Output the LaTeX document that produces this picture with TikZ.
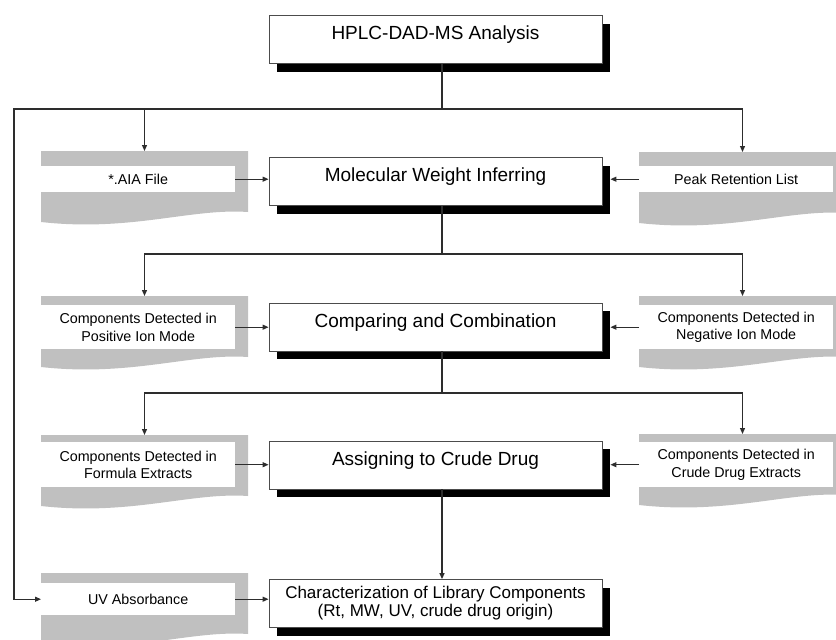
\documentclass[tikz,border=0pt]{standalone}
\usepackage{fontspec}
\setmainfont{Liberation Sans}
\usetikzlibrary{arrows.meta,shadows,calc}
\definecolor{docgray}{RGB}{192,192,192}
\definecolor{lin}{RGB}{45,45,45}
\newcommand\mkdoc[6]{%
  \fill[docgray] (#2,#3) -- (#2+207,#3) -- (#2+207,#3+61) .. controls (#2+150,#3+57) and (#2+90,#3+81) .. (#2,#3+71) -- cycle;
  \node[docbox, minimum height=#5pt] (#1) at (#2,#4) {#6};
  \coordinate (#1n) at (#2+103.5,#3);}
\begin{document}
\begin{tikzpicture}[x=1pt,y=-1pt,
  mainbase/.style={draw=black!70, line width=0.8pt, fill=white, minimum width=333pt, minimum height=48pt, inner sep=2pt,
    drop shadow={shadow xshift=8pt, shadow yshift=-8pt, fill=black, opacity=1}},
  mainbox/.style={mainbase, font=\fontsize{19}{22}\selectfont, text height=12pt, text depth=12pt},
  docbox/.style={fill=white, inner sep=0pt, minimum width=194pt, align=center, font=\fontsize{14.3}{17.5}\selectfont, anchor=north west},
  conn/.style={draw=lin, line width=1.2pt},
  arr/.style={conn, -{Triangle[length=6pt,width=5pt]}}]
\useasboundingbox (0,0) rectangle (836,640);
\clip (0,0) rectangle (836,640);
% documents
\mkdoc{dA}{41}{151}{166}{26}{*.AIA File}
\mkdoc{dB}{639}{152}{166}{26}{Peak Retention List}
\mkdoc{dC}{41}{296}{305}{44}{Components Detected in\\Positive Ion Mode}
\mkdoc{dD}{639}{296}{305}{44}{Components Detected in\\Negative Ion Mode}
\mkdoc{dE}{41}{435}{442}{45}{Components Detected in\\Formula Extracts}
\mkdoc{dF}{639}{434}{442}{45}{Components Detected in\\Crude Drug Extracts}
\mkdoc{dG}{41}{573}{583}{32}{UV Absorbance}
% main boxes
\node[mainbox] (b1) at (435.5,39.5) {HPLC-DAD-MS Analysis};
\node[mainbox] (b2) at (435.5,181.5) {Molecular Weight Inferring};
\node[mainbox] (b3) at (435.5,327) {Comparing and Combination};
\node[mainbox] (b4) at (435.5,465) {Assigning to Crude Drug};
\node[mainbase, align=center, font=\fontsize{17}{18}\selectfont] (b5) at (435.5,603.5) {Characterization of Library Components\\(Rt, MW, UV, crude drug origin)};
% junctions
\coordinate (j1) at (442,109);
\coordinate (j2) at (442,254);
\coordinate (j3) at (442,393);
\coordinate (cL) at (14,109);
% connectors
\draw[conn] ([xshift=6.5pt]b1.south) -- (j1);
\draw[arr] (j1) -| (dAn);
\draw[arr] (j1) -| (dBn);
\draw[arr] (j1) -- (cL) |- (dG.west);
\draw[arr] (dA.east) -- (dA.east -| b2.west);
\draw[arr] (dB.west) -- ([xshift=8pt]dB.west -| b2.east);
\draw[conn] ([xshift=6.5pt]b2.south) -- (j2);
\draw[arr] (j2) -| (dCn);
\draw[arr] (j2) -| (dDn);
\draw[arr] (dC.east) -- (dC.east -| b3.west);
\draw[arr] (dD.west) -- ([xshift=8pt]dD.west -| b3.east);
\draw[conn] ([xshift=6.5pt]b3.south) -- (j3);
\draw[arr] (j3) -| (dEn);
\draw[arr] (j3) -| (dFn);
\draw[arr] (dE.east) -- (dE.east -| b4.west);
\draw[arr] (dF.west) -- ([xshift=8pt]dF.west -| b4.east);
\draw[arr] ([xshift=6.5pt]b4.south) -- ([xshift=6.5pt]b5.north);
\draw[arr] (dG.east) -- (dG.east -| b5.west);
\end{tikzpicture}
\end{document}
